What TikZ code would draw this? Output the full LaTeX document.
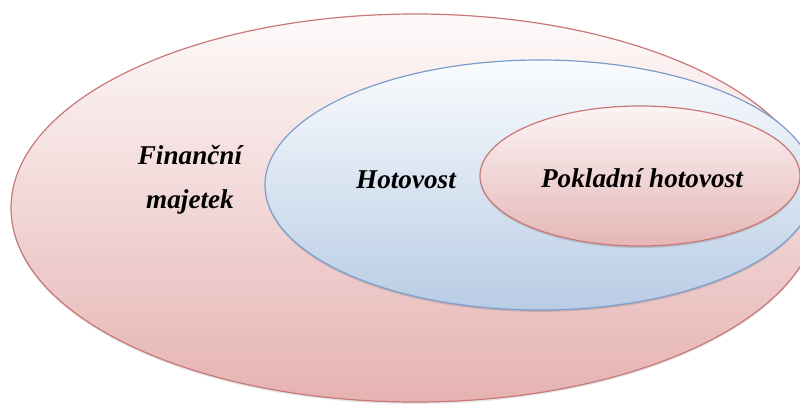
\documentclass[tikz,border=0pt]{standalone}
\usepackage{fontspec}
\setmainfont{Liberation Serif}
\usepackage{tikz}
\usetikzlibrary{shadows}
\definecolor{fm_red}{RGB}{200, 120, 118}
\definecolor{fm_redtop}{RGB}{254, 250, 250}
\definecolor{fm_redbot}{RGB}{230, 178, 178}
\definecolor{fm_blue}{RGB}{125, 157, 205}
\definecolor{fm_bluetop}{RGB}{250, 252, 254}
\definecolor{fm_bluebot}{RGB}{184, 204, 228}
\definecolor{fm_pinktop}{RGB}{252, 244, 244}
\definecolor{fm_pinkbot}{RGB}{229, 182, 182}
\tikzstyle{outer}=[draw=fm_red,line width=0.6pt,top color=fm_redtop,bottom color=fm_redbot,
  drop shadow={opacity=0.2,shadow xshift=0pt,shadow yshift=-1pt}]
\tikzstyle{mid}=[draw=fm_blue,line width=0.6pt,top color=fm_bluetop,bottom color=fm_bluebot,
  drop shadow={opacity=0.3,shadow xshift=0pt,shadow yshift=-1pt}]
\tikzstyle{inner}=[draw=fm_red,line width=0.6pt,top color=fm_pinktop,bottom color=fm_pinkbot,
  drop shadow={opacity=0.3,shadow xshift=0pt,shadow yshift=-1pt}]
\tikzstyle{lbl}=[font=\fontsize{13.6}{22}\selectfont\bfseries\itshape,align=center,inner sep=0pt]

\begin{document}
\begin{tikzpicture}[x=0.5pt,y=0.5pt]
            \useasboundingbox (0, 0) rectangle (800, 403);
            \clip (0, 0) rectangle (800, 403);
            \path [style=outer] (415, 195) ellipse [x radius=404, y radius=194];
            \path [style=mid] (540, 218) ellipse [x radius=275, y radius=125];
            \path [style=inner] (640, 227) ellipse [x radius=160, y radius=70];
            \node [style=lbl] (majetek) at (190, 223) {Finanční\\majetek};
            \node [style=lbl] (hotovost) at (406, 223) {Hotovost};
            \node [style=lbl] (pokladna) at (642, 225) {Pokladní hotovost};
    \end{tikzpicture}
\end{document}
